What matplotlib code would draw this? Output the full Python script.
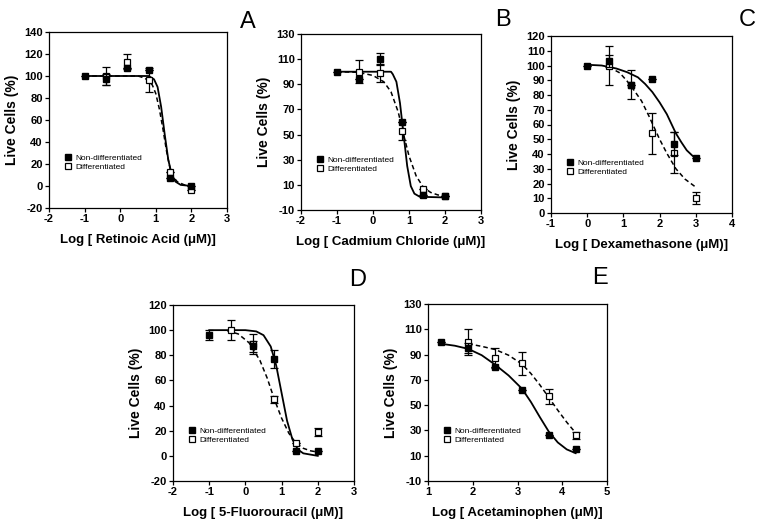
import matplotlib
matplotlib.use("Agg")
import matplotlib.pyplot as plt
from matplotlib.lines import Line2D

plt.rcParams["font.family"] = ["Liberation Sans", "DejaVu Sans"]
plt.rcParams["axes.unicode_minus"] = False

# ---- panel A: retinoic acid ----
a_nd_x = [-1, -0.4, 0.2, 0.8, 1.4, 2]
a_nd_y = [100, 97, 107, 105, 7, 0]
a_nd_err = [0, 5, 0, 0, 0, 0]
a_d_x = [-0.4, 0.2, 0.8, 1.4, 2]
a_d_y = [100, 113, 96, 13, -4]
a_d_err = [8, 7, 11, 0, 0]
a_fit_nd_x = [-1, 0, 0.8, 0.95, 1.05, 1.15, 1.25, 1.35, 1.45, 1.55, 1.7, 2]
a_fit_nd_y = [100, 100, 100, 97, 90, 72, 47, 24, 10, 4, 1, 0]
a_fit_d_x = [-1, 0, 0.5, 0.7, 0.9, 1.0, 1.1, 1.2, 1.3, 1.4, 1.5, 1.6, 1.8, 2]
a_fit_d_y = [100, 100, 100, 98, 92, 84, 70, 52, 32, 16, 8, 4, 1, 0]

# ---- panel B: cadmium chloride ----
b_nd_x = [-1, -0.4, 0.2, 0.8, 1.4, 2]
b_nd_y = [100, 94, 110, 60, 2, 1]
b_nd_err = [0, 0, 5, 0, 0, 0]
b_d_x = [-0.4, 0.2, 0.8, 1.4, 2]
b_d_y = [100, 99, 53, 7, 1]
b_d_err = [9, 7, 7, 0, 0]
b_fit_nd_x = [-1, 0, 0.5, 0.55, 0.65, 0.75, 0.85, 0.95, 1.05, 1.15, 1.3, 2]
b_fit_nd_y = [100, 100, 100, 98, 92, 75, 50, 25, 9, 3, 0.5, 0]
b_fit_d_x = [-1, -0.4, 0, 0.3, 0.5, 0.7, 0.85, 1.0, 1.2, 1.4, 1.6, 1.8, 2]
b_fit_d_y = [100, 99.5, 97, 92, 84, 68, 50, 33, 17, 8, 4, 2, 1]

# ---- panel C: dexamethasone ----
c_nd_x = [0, 0.6, 1.2, 1.8, 2.4, 3]
c_nd_y = [100, 103, 87, 91, 47, 37]
c_nd_err = [0, 4, 10, 0, 8, 0]
c_d_x = [0.6, 1.2, 1.8, 2.4, 3]
c_d_y = [100, 87, 54, 41, 10]
c_d_err = [13, 0, 14, 14, 4]
c_fit_nd_x = [0, 0.4, 0.8, 1.1, 1.4, 1.6, 1.8, 2.0, 2.2, 2.45, 2.6, 2.75, 2.9, 3]
c_fit_nd_y = [100.5, 100, 98, 95.5, 92, 87.5, 82, 75, 67, 54, 48, 42.5, 39, 37]
c_fit_d_x = [0.6, 0.9, 1.1, 1.3, 1.5, 1.7, 1.85, 2.0, 2.2, 2.45, 2.7, 3]
c_fit_d_y = [99, 95, 89.5, 83, 76, 66, 58, 50, 40.5, 30, 23, 17.5]

# ---- panel D: 5-fluorouracil ----
d_nd_x = [-1, 0.2, 0.8, 1.4, 2]
d_nd_y = [96, 87, 77, 4, 4]
d_nd_err = [4, 4, 7, 0, 0]
d_d_x = [-0.4, 0.2, 0.8, 1.4, 2]
d_d_y = [100, 89, 45, 10, 19]
d_d_err = [8, 8, 3, 0, 3]
d_fit_nd_x = [-1, 0, 0.3, 0.5, 0.7, 0.85, 1.0, 1.15, 1.3, 1.45, 1.6, 2]
d_fit_nd_y = [100, 100, 99, 96, 87, 72, 50, 28, 13, 5, 2, 0]
d_fit_d_x = [-0.5, -0.2, 0.1, 0.4, 0.6, 0.8, 1.0, 1.2, 1.4, 1.6, 1.8, 2]
d_fit_d_y = [99.5, 97, 90, 76, 62, 45, 30, 18, 10, 6, 4, 3]

# ---- panel E: acetaminophen ----
e_nd_x = [1.3, 1.9, 2.5, 3.1, 3.7, 4.3]
e_nd_y = [100, 95, 80, 62, 26, 15]
e_nd_err = [0, 4, 0, 0, 0, 0]
e_d_x = [1.9, 2.5, 3.1, 3.7, 4.3]
e_d_y = [100, 87, 83, 57, 26]
e_d_err = [10, 8, 9, 6, 3]
e_fit_nd_x = [1.3, 1.6, 1.9, 2.2, 2.5, 2.8, 3.1, 3.3, 3.5, 3.7, 3.9, 4.1, 4.3]
e_fit_nd_y = [98.5, 97, 94.5, 89.5, 82, 73.5, 63, 52.5, 40.5, 29, 20.5, 15, 12]
e_fit_d_x = [1.9, 2.2, 2.5, 2.8, 3.1, 3.3, 3.5, 3.7, 3.9, 4.1, 4.3]
e_fit_d_y = [98.5, 96.5, 94, 89.5, 82.5, 75, 66, 56, 46, 36.5, 28]

W, H = 764, 530

panels = [
    dict(letter="A", box=(49, 32, 227, 208), letter_xy=(248, 22),
         xlim=(-2, 3), xticks=range(-2, 4), ylim=(-20, 140), yticks=range(-20, 141, 20),
         xlabel="Log [ Retinoic Acid (μM)]",
         nd=(a_nd_x, a_nd_y, a_nd_err), d=(a_d_x, a_d_y, a_d_err),
         fnd=(a_fit_nd_x, a_fit_nd_y), fd=(a_fit_d_x, a_fit_d_y)),
    dict(letter="B", box=(301, 34, 481, 210), letter_xy=(503, 20),
         xlim=(-2, 3), xticks=range(-2, 4), ylim=(-10, 130), yticks=range(-10, 131, 20),
         xlabel="Log [ Cadmium Chloride (μM)]",
         nd=(b_nd_x, b_nd_y, b_nd_err), d=(b_d_x, b_d_y, b_d_err),
         fnd=(b_fit_nd_x, b_fit_nd_y), fd=(b_fit_d_x, b_fit_d_y)),
    dict(letter="C", box=(551, 36, 732, 213), letter_xy=(747, 20),
         xlim=(-1, 4), xticks=range(-1, 5), ylim=(0, 120), yticks=range(0, 121, 10),
         xlabel="Log [ Dexamethasone (μM)]",
         nd=(c_nd_x, c_nd_y, c_nd_err), d=(c_d_x, c_d_y, c_d_err),
         fnd=(c_fit_nd_x, c_fit_nd_y), fd=(c_fit_d_x, c_fit_d_y)),
    dict(letter="D", box=(173, 305, 354, 481), letter_xy=(358, 280),
         xlim=(-2, 3), xticks=range(-2, 4), ylim=(-20, 120), yticks=range(-20, 121, 20),
         xlabel="Log [ 5-Fluorouracil (μM)]",
         nd=(d_nd_x, d_nd_y, d_nd_err), d=(d_d_x, d_d_y, d_d_err),
         fnd=(d_fit_nd_x, d_fit_nd_y), fd=(d_fit_d_x, d_fit_d_y)),
    dict(letter="E", box=(428, 304, 607, 481), letter_xy=(600, 278),
         xlim=(1, 5), xticks=range(1, 6), ylim=(-10, 130), yticks=range(-10, 131, 20),
         xlabel="Log [ Acetaminophen (μM)]",
         nd=(e_nd_x, e_nd_y, e_nd_err), d=(e_d_x, e_d_y, e_d_err),
         fnd=(e_fit_nd_x, e_fit_nd_y), fd=(e_fit_d_x, e_fit_d_y)),
]

fig = plt.figure(figsize=(W / 100, H / 100), dpi=100)

for p in panels:
    x0, y0, x1, y1 = p["box"]
    ax = fig.add_axes([x0 / W, 1 - y1 / H, (x1 - x0) / W, (y1 - y0) / H])

    # fitted curves
    ax.plot(*p["fnd"], color="black", lw=1.3, zorder=2)
    ax.plot(*p["fd"], color="black", lw=1.1, dashes=(3, 2), zorder=2)

    # data points with error bars (open first, filled on top)
    dx, dy, de = p["d"]
    ax.errorbar(dx, dy, yerr=de, fmt="s", ms=5, mfc="white", mec="black", mew=0.9,
                ecolor="black", elinewidth=0.9, capsize=3, capthick=0.9, zorder=3)
    nx, ny, ne = p["nd"]
    ax.errorbar(nx, ny, yerr=ne, fmt="s", ms=5, mfc="black", mec="black",
                ecolor="black", elinewidth=0.9, capsize=3, capthick=0.9, zorder=4)

    ax.set_xlim(*p["xlim"])
    ax.set_ylim(*p["ylim"])
    ax.set_xticks(list(p["xticks"]))
    ax.set_yticks(list(p["yticks"]))
    ax.tick_params(direction="out", length=3, width=0.9, labelsize=8, pad=1.5,
                   top=False, right=False)
    for lab in ax.get_xticklabels() + ax.get_yticklabels():
        lab.set_fontweight("bold")
    for s in ax.spines.values():
        s.set_linewidth(0.9)
    ax.set_xlabel(p["xlabel"], fontsize=9.5, fontweight="bold", labelpad=7)
    ax.set_ylabel("Live Cells (%)", fontsize=10, fontweight="bold", labelpad=4)

    handles = [
        Line2D([], [], ls="none", marker="s", ms=5, mfc="black", mec="black"),
        Line2D([], [], ls="none", marker="s", ms=5, mfc="white", mec="black", mew=0.9),
    ]
    ax.legend(handles, ["Non-differentiated", "Differentiated"], loc="upper left",
              bbox_to_anchor=(0.06, 0.33), frameon=False, fontsize=6, borderpad=0,
              handlelength=1.0, handletextpad=0.4, labelspacing=0.15)

    lx, ly = p["letter_xy"]
    fig.text(lx / W, 1 - ly / H, p["letter"], fontsize=17, ha="center", va="center")

fig.savefig("out.png", dpi=100)
